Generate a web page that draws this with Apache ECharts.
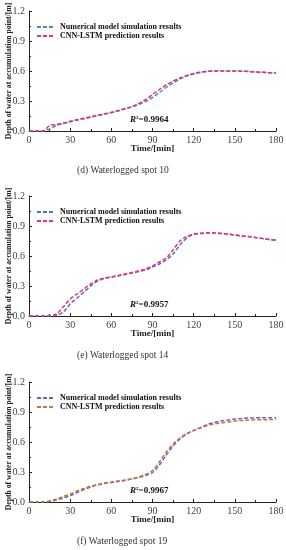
<!DOCTYPE html>
<html><head><meta charset="utf-8">
<script src="https://cdn.jsdelivr.net/npm/echarts@6/dist/echarts.min.js"></script>
<style>html,body{margin:0;padding:0;background:#fff}#c{width:286px;height:550px}</style>
</head><body><div id="c"></div>
<script>
const times = [0,5,10,15,20,25,30,35,40,45,50,55,60,65,70,75,80,85,90,95,100,105,110,115,120,125,130,135,140,145,150,155,160,165,170,175,180];
const yTicks = [0, 0.3, 0.6, 0.9, 1.2];
const xTicks = [0, 30, 60, 90, 120, 150, 180];
const legendNames = ["Numerical model simulation results", "CNN-LSTM prediction results"];
const captions = ["(d) Waterlogged spot 10", "(e) Waterlogged spot 14", "(f) Waterlogged spot 19"];
const r2Values = ["0.9964", "0.9957", "0.9967"];

const numD = [0,0,0,0.02,0.055,0.075,0.092,0.108,0.123,0.138,0.153,0.168,0.183,0.2,0.22,0.24,0.265,0.295,0.335,0.385,0.435,0.48,0.52,0.55,0.57,0.585,0.595,0.6,0.6,0.6,0.6,0.598,0.595,0.59,0.587,0.583,0.58];
const cnnD = [0,0,0,0.055,0.065,0.08,0.097,0.112,0.127,0.142,0.157,0.172,0.187,0.205,0.225,0.245,0.275,0.315,0.365,0.415,0.46,0.5,0.53,0.555,0.575,0.588,0.596,0.6,0.6,0.6,0.6,0.598,0.595,0.59,0.587,0.583,0.58];
const numE = [0,0,0,0,0.005,0.04,0.12,0.18,0.24,0.3,0.35,0.375,0.39,0.4,0.415,0.43,0.445,0.46,0.49,0.52,0.56,0.62,0.71,0.78,0.815,0.825,0.83,0.83,0.825,0.82,0.81,0.8,0.795,0.785,0.775,0.765,0.76];
const cnnE = [0,0,0,0,0.02,0.09,0.17,0.22,0.27,0.32,0.36,0.38,0.39,0.405,0.42,0.435,0.45,0.47,0.5,0.54,0.58,0.66,0.75,0.795,0.82,0.828,0.832,0.83,0.825,0.82,0.81,0.8,0.795,0.785,0.775,0.765,0.76];
const numF = [0,0,0,0.005,0.02,0.04,0.065,0.095,0.125,0.15,0.17,0.185,0.195,0.205,0.215,0.23,0.245,0.265,0.295,0.37,0.47,0.56,0.63,0.68,0.715,0.745,0.775,0.795,0.81,0.82,0.83,0.835,0.84,0.842,0.843,0.843,0.843];
const cnnF = [0,0,0,0.01,0.03,0.055,0.08,0.11,0.135,0.16,0.175,0.19,0.2,0.21,0.22,0.232,0.25,0.275,0.315,0.4,0.5,0.58,0.64,0.685,0.715,0.74,0.765,0.78,0.79,0.8,0.81,0.815,0.82,0.822,0.823,0.824,0.825];

const numSeries = [numD, numE, numF];
const cnnSeries = [cnnD, cnnE, cnnF];
const numColors = ["#3f8fc0", "#4d72c8", "#6a5fd0"];
const cnnColors = ["#e8336e", "#e8336e", "#c07a3c"];

const gridTops = [11, 196, 382];
const serif = "Liberation Serif";
const chart = echarts.init(document.getElementById('c'), null, {renderer: 'canvas'});

const grids = [], xAxes = [], yAxes = [], series = [], legends = [], graphics = [];
for (let i = 0; i < 3; i++) {
  grids.push({left: 29, top: gridTops[i], width: 247, height: 120, containLabel: false, outerBoundsMode: 'none'});
  xAxes.push({
    type: 'value', gridIndex: i, min: 0, max: 180, interval: 30,
    name: 'Time/[min]', nameLocation: 'middle', nameGap: 13, nameMoveOverlap: false,
    nameTextStyle: {fontFamily: serif, fontWeight: 'bold', fontSize: 9, color: '#222'},
    axisLine: {show: true, onZero: false, lineStyle: {color: '#222', width: 1}},
    axisTick: {show: true, inside: true, length: 3, lineStyle: {color: '#222'}},
    minorTick: {show: true, splitNumber: 2, length: 2, lineStyle: {color: '#222'}},
    splitLine: {show: false},
    axisLabel: {fontFamily: serif, fontSize: 10, color: '#444', margin: 4}
  });
  yAxes.push({
    type: 'value', gridIndex: i, min: 0, max: 1.2, interval: 0.3,
    name: 'Depth of water at accumulation point/[m]', nameLocation: 'middle', nameGap: 16, nameMoveOverlap: false,
    nameTextStyle: {fontFamily: serif, fontWeight: 'bold', fontSize: 7.7, color: '#222'},
    axisLine: {show: true, lineStyle: {color: '#222', width: 1}},
    axisTick: {show: true, inside: true, length: 3, lineStyle: {color: '#222'}},
    minorTick: {show: true, splitNumber: 2, length: 2, lineStyle: {color: '#222'}},
    splitLine: {show: false},
    axisLabel: {fontFamily: serif, fontSize: 10, color: '#444', margin: 4, formatter: v => v.toFixed(1)}
  });
  const nName = 'num' + i, cName = 'cnn' + i;
  series.push({
    name: nName, type: 'line', xAxisIndex: i, yAxisIndex: i, smooth: 0.3, symbol: 'none', showSymbol: false,
    data: times.map((t, k) => [t, numSeries[i][k]]),
    lineStyle: {color: numColors[i], width: 1.5, type: [4, 2]}, itemStyle: {color: numColors[i]}
  });
  series.push({
    name: cName, type: 'line', xAxisIndex: i, yAxisIndex: i, smooth: 0.3, symbol: 'none', showSymbol: false,
    data: times.map((t, k) => [t, cnnSeries[i][k]]),
    lineStyle: {color: cnnColors[i], width: 1.5, type: [4, 2]}, itemStyle: {color: cnnColors[i]}
  });
  legends.push({
    show: true, data: [nName, cName], orient: 'vertical', left: 36, top: gridTops[i] + 12,
    itemWidth: 18, itemHeight: 8, itemGap: 1, padding: 0,
    itemStyle: {opacity: 0, borderWidth: 0},
    formatter: function (n) { return n.indexOf('num') === 0 ? legendNames[0] : legendNames[1]; },
    textStyle: {fontFamily: serif, fontWeight: 'bold', fontSize: 8, color: '#111', lineHeight: 8},
    selectedMode: false
  });
  graphics.push({
    type: 'text', left: 130, top: gridTops[i] + 104,
    style: {
      text: '{i|R}{s|2}{b|=' + r2Values[i] + '}',
      rich: {
        i: {fontFamily: serif, fontStyle: 'italic', fontWeight: 'bold', fontSize: 9, fill: '#111'},
        s: {fontFamily: serif, fontWeight: 'bold', fontSize: 5, fill: '#111', verticalAlign: 'top', padding: [0,0,4,0]},
        b: {fontFamily: serif, fontWeight: 'bold', fontSize: 9, fill: '#111'}
      }
    }
  });
  graphics.push({
    type: 'text', left: 77, top: gridTops[i] + 154,
    style: {text: captions[i], fontFamily: serif, fontSize: 9.5, fill: '#333'}
  });
}

chart.setOption({
  animation: false,
  backgroundColor: '#fff',
  grid: grids, xAxis: xAxes, yAxis: yAxes, series: series, legend: legends, graphic: graphics
});
</script></body></html>
